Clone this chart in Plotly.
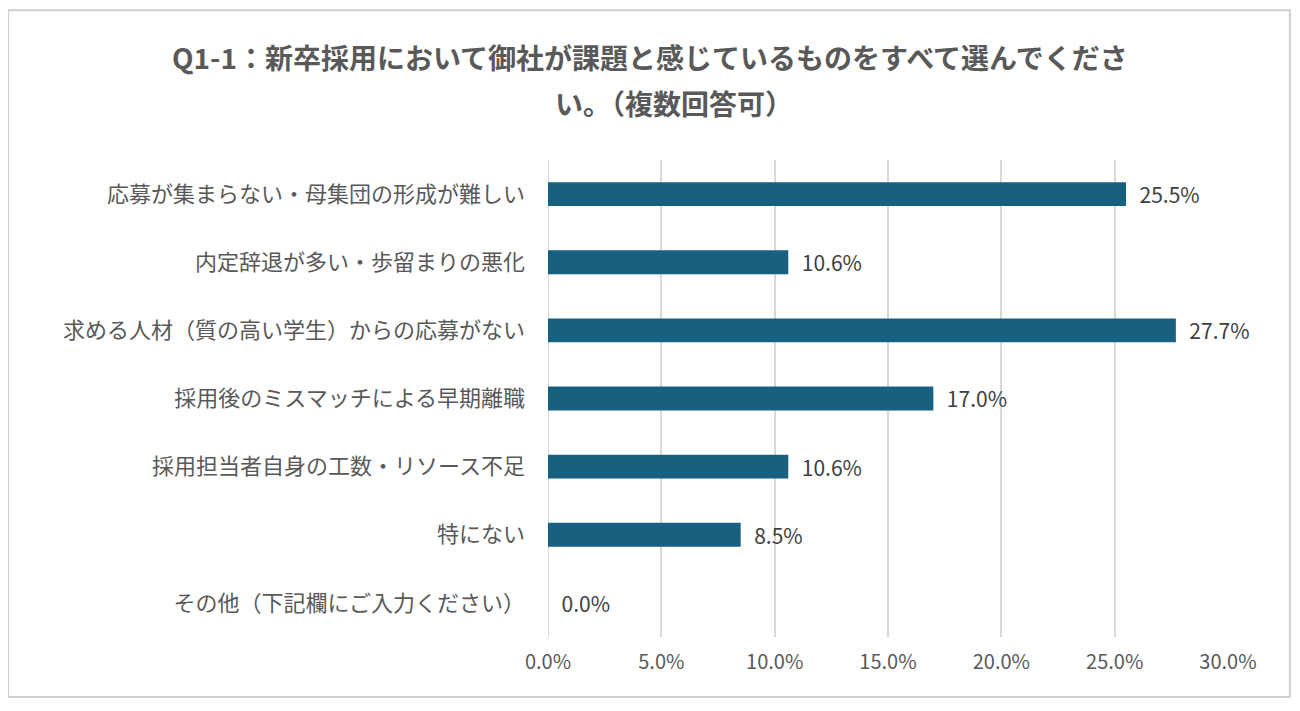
import plotly.graph_objects as go

# Survey answers (top to bottom as shown)
categories = [
    "応募が集まらない・母集団の形成が難しい",
    "内定辞退が多い・歩留まりの悪化",
    "求める人材（質の高い学生）からの応募がない",
    "採用後のミスマッチによる早期離職",
    "採用担当者自身の工数・リソース不足",
    "特にない",
    "その他（下記欄にご入力ください）",
]
values = [25.5, 10.6, 27.7, 17.0, 10.6, 8.5, 0.0]
tick_vals = [0, 5, 10, 15, 20, 25, 30]
tick_text = ["0.0%", "5.0%", "10.0%", "15.0%", "20.0%", "25.0%", "30.0%"]

title_line1 = "Q1-1：新卒採用において御社が課題と感じているものをすべて選んでくださ"
title_line2 = "い。（複数回答可）"

font_jp = "Noto Sans CJK JP"
bar_color = "#17607f"
grey = "#595959"

fig = go.Figure()
fig.add_trace(go.Bar(
    x=values,
    y=categories,
    orientation="h",
    marker=dict(color=bar_color, line=dict(width=0)),
    width=0.35,
    text=["\u2002%.1f%%" % v for v in values],
    textposition="outside",
    constraintext="none",
    textfont=dict(family=font_jp, size=21, color="#404040"),
    cliponaxis=False,
))

fig.update_layout(
    width=1300, height=711,
    paper_bgcolor="white",
    plot_bgcolor="white",
    margin=dict(l=540, r=80, t=152, b=82),
    showlegend=False,
    font=dict(family=font_jp),
)

# two-line title as annotations (wider line spacing than a <br> title)
fig.add_annotation(
    text="<b>" + title_line1 + "</b>", xref="paper", yref="paper",
    x=0.15, y=1.216, xanchor="center", yanchor="middle", showarrow=False,
    font=dict(family=font_jp, size=28, color=grey),
)
fig.add_annotation(
    text="<b>" + title_line2 + "</b>", xref="paper", yref="paper",
    x=0.185, y=1.119, xanchor="center", yanchor="middle", showarrow=False,
    font=dict(family=font_jp, size=28, color=grey),
)

fig.update_xaxes(
    range=[0, 30],
    tickvals=tick_vals,
    ticktext=tick_text,
    showgrid=True,
    gridcolor="#d9d9d9",
    gridwidth=2,
    zeroline=False,
    showline=False,
    tickfont=dict(family=font_jp, size=20, color=grey),
    ticklabelstandoff=11,
)
fig.update_yaxes(
    categoryorder="array",
    categoryarray=categories[::-1],
    showgrid=False,
    showline=False,
    ticks="",
    tickfont=dict(family=font_jp, size=22, color=grey),
    ticklabelstandoff=22,
)

# gridline at 0% (plotly drops the one on the plot edge)
fig.add_shape(
    type="line", xref="x", yref="paper",
    x0=0, x1=0, y0=0, y1=1,
    line=dict(color="#d9d9d9", width=2),
    layer="below",
)

# outer frame of the chart
fig.add_shape(
    type="rect", xref="paper", yref="paper",
    x0=-0.794, x1=1.091, y0=-0.126, y1=1.314,
    line=dict(color="#d0d0d0", width=2),
    fillcolor="rgba(0,0,0,0)",
    layer="below",
)

fig.write_html("out.html")
